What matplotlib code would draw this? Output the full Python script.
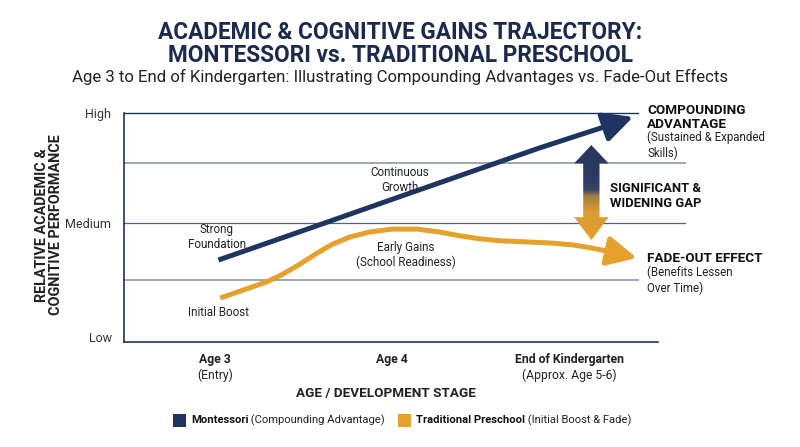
'''plot.py

   Academic & cognitive gains trajectory: Montessori vs. traditional preschool
'''

import numpy as np
import matplotlib
matplotlib.use('Agg')
import matplotlib.pyplot as plt
from matplotlib.patches import Polygon, Rectangle
from matplotlib.colors import LinearSegmentedColormap

plt.rcParams['font.family'] = ['Roboto', 'DejaVu Sans']


#
#  Data
#
stages     = ['Age 3', 'Age 4', 'End of Kindergarten']
stage_subs = ['(Entry)', '', '(Approx. Age 5-6)']
stage_x    = [0, 1, 2]

level_labels = ['Low', 'Medium', 'High']
level_values = [2, 52, 100]
grid_values  = [27, 52, 78]

mont_x = [0.02, 0.54, 1.07, 1.57, 1.83, 2.06, 2.20, 2.36]
mont_y = [35.8, 49.8, 64.2, 77.7, 84.7, 90.5, 94.0, 98.3]

trad_x = [0.03, 0.16, 0.29, 0.38, 0.48, 0.57, 0.66, 0.76, 0.87, 1.00, 1.14,
          1.27, 1.38, 1.49, 1.61, 1.76, 1.90, 2.02, 2.13, 2.23, 2.38]
trad_y = [19.2, 22.7, 26.2, 29.5, 34.0, 38.5, 42.6, 45.8, 48.0, 49.3, 49.3,
          48.0, 46.4, 45.1, 44.2, 43.7, 43.2, 42.4, 41.0, 39.4, 36.7]

gap_x   = 2.124
gap_top = 86.0
gap_bot = 44.5

NAVY   = '#1f3460'
ORANGE = '#e6a02c'
TEXT   = '#222222'
GRID   = '#9ea6b3'


#
#  Figure and axes
#
fig = plt.figure(figsize=(8, 4.47), dpi=100)
ax = fig.add_axes([124/800, 1 - 342/447, (658 - 124)/800, (342 - 113)/447])
ax.set_xlim(-0.513, 2.50)
ax.set_ylim(0, 100)

for s in ['top', 'right']:
    ax.spines[s].set_visible(False)
for s in ['left', 'bottom']:
    ax.spines[s].set_color(NAVY)
    ax.spines[s].set_linewidth(1.2)

# Horizontal lines (they run out past the axes in the picture)
ax.axhline(100, xmin=0, xmax=0.963, color=NAVY, lw=1.0, clip_on=False)
ax.axhline(grid_values[0], xmin=0, xmax=0.963, color=GRID, lw=1.4, clip_on=False)
ax.axhline(grid_values[1], xmin=0, xmax=1.05, color='#4a6290', lw=0.9, clip_on=False)
ax.axhline(grid_values[2], xmin=0, xmax=1.05, color=GRID, lw=1.4, clip_on=False)

ax.set_yticks(level_values, level_labels)
ax.tick_params(axis='y', length=0, pad=9, labelsize=9, labelcolor='#333333')
ax.set_xticks([])

# Stage labels under the axis
for x, name, sub in zip(stage_x, stages, stage_subs):
    ax.text(x, -0.05, name, transform=ax.get_xaxis_transform(), ha='center',
            va='top', fontsize=8.8, fontweight='bold', color=TEXT)
    if sub:
        ax.text(x, -0.115, sub, transform=ax.get_xaxis_transform(), ha='center',
                va='top', fontsize=8.7, color=TEXT)

ax.text(0.49, -0.195, 'AGE / DEVELOPMENT STAGE', transform=ax.transAxes,
        ha='center', va='top', fontsize=9.7, fontweight='bold', color=TEXT)

fig.text(49/800, 1 - 225/447, 'RELATIVE ACADEMIC &\nCOGNITIVE PERFORMANCE',
         rotation=90, ha='center', va='center', fontsize=10.4,
         fontweight='bold', color=TEXT, linespacing=1.05)


#
#  Trajectories
#
head = dict(arrowstyle='-|>,head_width=0.5,head_length=1.0',
            mutation_scale=18, lw=3.6, shrinkA=0, shrinkB=0)

ax.plot(mont_x[:-1], mont_y[:-1], color=NAVY, lw=3.6, solid_capstyle='butt',
        solid_joinstyle='round', zorder=4)
ax.annotate('', xy=(mont_x[-1], mont_y[-1]), xytext=(mont_x[-2], mont_y[-2]),
            arrowprops=dict(color=NAVY, **head), zorder=4)

ax.plot(trad_x[:-1], trad_y[:-1], color=ORANGE, lw=3.6, solid_capstyle='butt',
        solid_joinstyle='round', zorder=4)
ax.annotate('', xy=(trad_x[-1], trad_y[-1]), xytext=(trad_x[-2], trad_y[-2]),
            arrowprops=dict(color=ORANGE, **head), zorder=4)


#
#  Gap arrow with a navy-to-orange gradient
#
sw, hw = 0.046, 0.097       # shaft / head half widths (data x)
hl_t, hl_b = 8.0, 10.0      # head lengths (data y)
verts = [
    (gap_x, gap_top),
    (gap_x + hw, gap_top - hl_t), (gap_x + sw, gap_top - hl_t),
    (gap_x + sw, gap_bot + hl_b), (gap_x + hw, gap_bot + hl_b),
    (gap_x, gap_bot),
    (gap_x - hw, gap_bot + hl_b), (gap_x - sw, gap_bot + hl_b),
    (gap_x - sw, gap_top - hl_t), (gap_x - hw, gap_top - hl_t),
]
arrow = Polygon(verts, closed=True, facecolor='none', edgecolor='none')
ax.add_patch(arrow)
cmap = LinearSegmentedColormap.from_list(
    'gap', [(0.0, ORANGE), (0.30, '#d89b33'), (0.46, '#a07d42'),
            (0.52, '#3d4666'), (0.6, '#2c3c62'), (1.0, '#26375f')])
grad = np.linspace(0, 1, 256).reshape(-1, 1)
img = ax.imshow(grad, cmap=cmap, origin='lower', aspect='auto',
                extent=[gap_x - hw, gap_x + hw, gap_bot, gap_top], zorder=5)
img.set_clip_path(arrow)
ax.set_xlim(-0.513, 2.50)
ax.set_ylim(0, 100)


#
#  Annotations
#
def px(xp, yp):
    return (xp/800, 1 - yp/447)

fig.text(*px(217, 237), 'Strong\nFoundation', ha='center', va='center',
         fontsize=8.4, color=TEXT, linespacing=1.2)
fig.text(*px(218, 313), 'Initial Boost', ha='center', va='center',
         fontsize=8.4, color=TEXT)
fig.text(*px(400, 180), 'Continuous\nGrowth', ha='center', va='center',
         fontsize=8.4, color=TEXT, linespacing=1.2)
fig.text(*px(406, 255), 'Early Gains\n(School Readiness)', ha='center', va='center',
         fontsize=8.4, color=TEXT, linespacing=1.2)

fig.text(*px(647, 104), 'COMPOUNDING\nADVANTAGE', ha='left', va='top',
         fontsize=9.7, fontweight='bold', color='#111111', linespacing=1.1)
fig.text(*px(647, 131), '(Sustained & Expanded\nSkills)', ha='left', va='top',
         fontsize=8.3, color=TEXT, linespacing=1.2)

fig.text(*px(610, 196), 'SIGNIFICANT &\nWIDENING GAP', ha='left', va='center',
         fontsize=9.4, fontweight='bold', color='#111111', linespacing=1.15)

fig.text(*px(647, 259), 'FADE-OUT EFFECT', ha='left', va='center',
         fontsize=9.7, fontweight='bold', color='#111111')
fig.text(*px(647, 266), '(Benefits Lessen\nOver Time)', ha='left', va='top',
         fontsize=8.3, color=TEXT, linespacing=1.2)


#
#  Titles
#
fig.text(0.5, 1 - 44/447, 'ACADEMIC & COGNITIVE GAINS TRAJECTORY:\nMONTESSORI vs. TRADITIONAL PRESCHOOL',
         ha='center', va='center', fontsize=16.3, fontweight='bold',
         color='#1b2a4e', linespacing=1.05)
fig.text(0.5, 1 - 77/447, 'Age 3 to End of Kindergarten: Illustrating Compounding Advantages vs. Fade-Out Effects',
         ha='center', va='center', fontsize=12.1, color=TEXT)


#
#  Legend
#
fig.add_artist(Rectangle(px(173, 427), 13/800, 13/447, transform=fig.transFigure,
                         facecolor=NAVY, edgecolor='none'))
fig.add_artist(Rectangle(px(398, 427), 13/800, 13/447, transform=fig.transFigure,
                         facecolor=ORANGE, edgecolor='none'))

t1 = fig.text(*px(191, 420), 'Montessori', ha='left', va='center',
              fontsize=8.1, fontweight='bold', color='#111111')
fig.add_artist(plt.Annotation(' (Compounding Advantage)', xy=(1, 0.5), xycoords=t1,
                              ha='left', va='center', fontsize=8.1, color=TEXT))
t2 = fig.text(*px(416, 420), 'Traditional Preschool', ha='left', va='center',
              fontsize=8.1, fontweight='bold', color='#111111')
fig.add_artist(plt.Annotation(' (Initial Boost & Fade)', xy=(1, 0.5), xycoords=t2,
                              ha='left', va='center', fontsize=8.1, color=TEXT))

fig.savefig('out.png', dpi=100)
